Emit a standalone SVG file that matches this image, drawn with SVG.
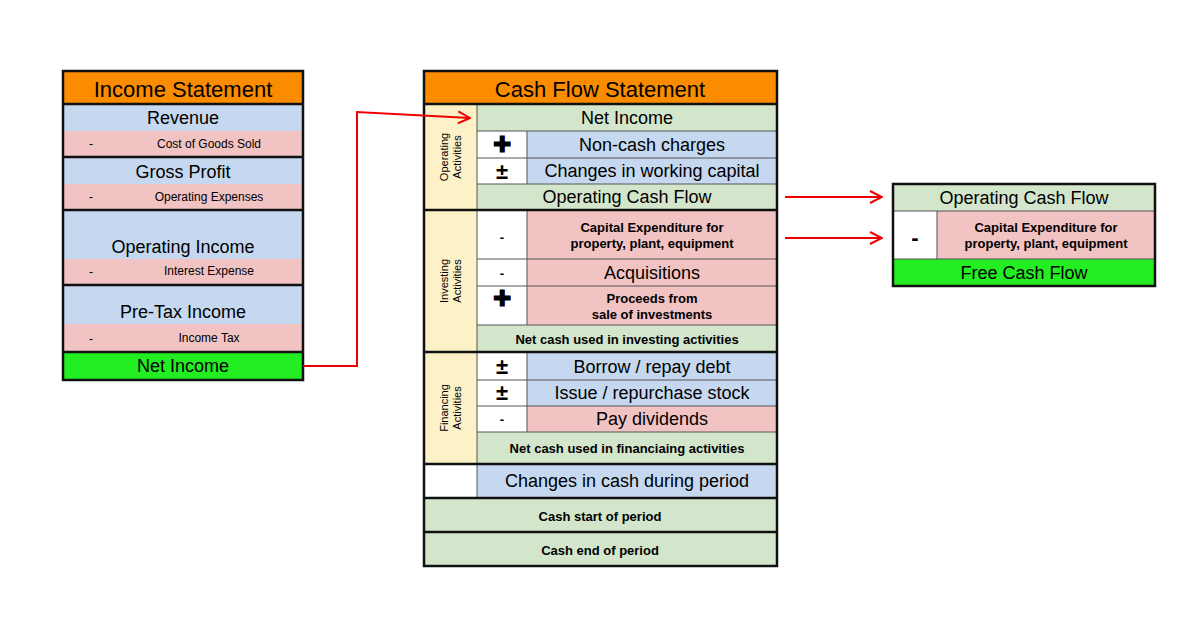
<svg xmlns="http://www.w3.org/2000/svg" width="1200" height="629" viewBox="0 0 1200 629">
<defs>
<style>
text{font-family:"Liberation Sans",Arial,sans-serif;fill:#000;text-anchor:middle;dominant-baseline:central}
.o{fill:#fb8c00}.b{fill:#c5d8ef}.p{fill:#f2c3c3}.g{fill:#d3e6cc}.G{fill:#22ee22}.y{fill:#fdf1c8}.w{fill:#fff}
.t{font-size:22px}.l{font-size:18px}.s{font-size:12px}.bs{font-size:13px;font-weight:bold}.sg{font-size:22px;font-weight:bold}
.thin{stroke:#555;stroke-width:1;fill:none}.thick{stroke:#111;stroke-width:2.5;fill:none}
.arr{stroke:#e00;stroke-width:2;fill:none}
</style>
<marker id="ah" viewBox="0 0 14 14" refX="13" refY="7" markerWidth="14" markerHeight="14" markerUnits="userSpaceOnUse" orient="auto"><path d="M1,1 L13,7 L1,13" stroke="#e00" stroke-width="2" fill="none"/></marker>
</defs>
<rect width="1200" height="629" fill="#fff"/>
<g id="income-statement">
<rect class="o" x="63" y="71" width="240" height="33"/><text class="t" x="183" y="89">Income Statement</text>
<rect class="b" x="63" y="104" width="240" height="27"/><text class="l" x="183" y="118">Revenue</text>
<rect class="p" x="63" y="131" width="240" height="26"/><text class="s" x="91" y="144">-</text><text class="s" x="209" y="144">Cost of Goods Sold</text>
<rect class="b" x="63" y="157" width="240" height="27"/><text class="l" x="183" y="172">Gross Profit</text>
<rect class="p" x="63" y="184" width="240" height="26"/><text class="s" x="91" y="197">-</text><text class="s" x="209" y="197">Operating Expenses</text>
<rect class="b" x="63" y="210" width="240" height="49"/><text class="l" x="183" y="247">Operating Income</text>
<rect class="p" x="63" y="259" width="240" height="26"/><text class="s" x="91" y="272">-</text><text class="s" x="209" y="271">Interest Expense</text>
<rect class="b" x="63" y="285" width="240" height="39"/><text class="l" x="183" y="312">Pre-Tax Income</text>
<rect class="p" x="63" y="324" width="240" height="28"/><text class="s" x="91" y="339">-</text><text class="s" x="209" y="338">Income Tax</text>
<rect class="G" x="63" y="352" width="240" height="28"/><text class="l" x="183" y="366">Net Income</text>
<path class="thick" d="M63,104H303M63,157H303M63,210H303M63,285H303M63,352H303"/>
<rect class="thick" x="63" y="71" width="240" height="309"/>
</g>
<g id="cash-flow-statement">
<rect class="o" x="424" y="71" width="353" height="33"/><text class="t" x="600" y="89">Cash Flow Statement</text>
<rect class="y" x="424" y="104" width="53" height="360"/>
<text font-size="11" transform="translate(450,157) rotate(-90)"><tspan x="0" dy="-6">Operating</tspan><tspan x="0" dy="13">Activities</tspan></text>
<text font-size="11" transform="translate(450,281) rotate(-90)"><tspan x="0" dy="-6">Investing</tspan><tspan x="0" dy="13">Activities</tspan></text>
<text font-size="11" transform="translate(450,408) rotate(-90)"><tspan x="0" dy="-6">Financing</tspan><tspan x="0" dy="13">Activities</tspan></text>
<rect class="g" x="477" y="104" width="300" height="27"/><text class="l" x="627" y="118">Net Income</text>
<rect class="w" x="477" y="131" width="50" height="53"/>
<rect class="b" x="527" y="131" width="250" height="27"/><text class="sg" x="502" y="144">✚</text><text class="l" x="652" y="145">Non-cash charges</text>
<rect class="b" x="527" y="158" width="250" height="26"/><text class="sg" x="502" y="171">±</text><text class="l" x="652" y="171">Changes in working capital</text>
<rect class="g" x="477" y="184" width="300" height="26"/><text class="l" x="627" y="197">Operating Cash Flow</text>
<rect class="w" x="477" y="210" width="50" height="115"/>
<rect class="p" x="527" y="210" width="250" height="49"/><text class="bs" x="502" y="237">-</text><text class="bs" x="652" y="227">Capital Expenditure for</text><text class="bs" x="652" y="243">property, plant, equipment</text>
<rect class="p" x="527" y="259" width="250" height="27"/><text class="bs" x="502" y="273">-</text><text class="l" x="652" y="273">Acquisitions</text>
<rect class="p" x="527" y="286" width="250" height="39"/><text class="sg" x="502" y="298">✚</text><text class="bs" x="652" y="298">Proceeds from</text><text class="bs" x="652" y="314">sale of investments</text>
<rect class="g" x="477" y="325" width="300" height="27"/><text class="bs" x="627" y="339">Net cash used in investing activities</text>
<rect class="w" x="477" y="352" width="50" height="80"/>
<rect class="b" x="527" y="352" width="250" height="28"/><text class="sg" x="502" y="366">±</text><text class="l" x="652" y="367">Borrow / repay debt</text>
<rect class="b" x="527" y="380" width="250" height="26"/><text class="sg" x="502" y="392">±</text><text class="l" x="652" y="393">Issue / repurchase stock</text>
<rect class="p" x="527" y="406" width="250" height="26"/><text class="bs" x="502" y="419">-</text><text class="l" x="652" y="419">Pay dividends</text>
<rect class="g" x="477" y="432" width="300" height="32"/><text class="bs" x="627" y="448">Net cash used in financiaing activities</text>
<rect class="w" x="424" y="464" width="53" height="34"/>
<rect class="b" x="477" y="464" width="300" height="34"/><text class="l" x="627" y="481">Changes in cash during period</text>
<rect class="g" x="424" y="498" width="353" height="34"/><text class="bs" x="600" y="516">Cash start of period</text>
<rect class="g" x="424" y="532" width="353" height="34"/><text class="bs" x="600" y="550">Cash end of period</text>
<path class="thin" d="M477,104V464M527,131V184M527,210V325M527,352V432M477,131H777M477,158H777M477,184H777M477,259H777M477,286H777M477,325H777M477,380H777M477,406H777M477,432H777M477,464V498"/>
<path class="thick" d="M424,104H777M424,210H777M424,352H777M424,464H777M424,498H777M424,532H777"/>
<rect class="thick" x="424" y="71" width="353" height="495"/>
</g>
<g id="free-cash-flow">
<rect class="g" x="893" y="184" width="262" height="27"/><text class="l" x="1024" y="198">Operating Cash Flow</text>
<rect class="w" x="893" y="211" width="44" height="48"/><text class="sg" x="915" y="237">-</text>
<rect class="p" x="937" y="211" width="218" height="48"/><text class="bs" x="1046" y="227">Capital Expenditure for</text><text class="bs" x="1046" y="243">property, plant, equipment</text>
<rect class="G" x="893" y="259" width="262" height="27"/><text class="l" x="1024" y="273">Free Cash Flow</text>
<path class="thin" d="M893,211H1155M893,259H1155M937,211V259"/>
<rect class="thick" x="893" y="184" width="262" height="102"/>
</g>
<g id="connectors">
<path class="arr" marker-end="url(#ah)" d="M303,366H357V112L470,118"/>
<path class="arr" marker-end="url(#ah)" d="M785,197H882"/>
<path class="arr" marker-end="url(#ah)" d="M785,238H882"/>
</g>
</svg>
